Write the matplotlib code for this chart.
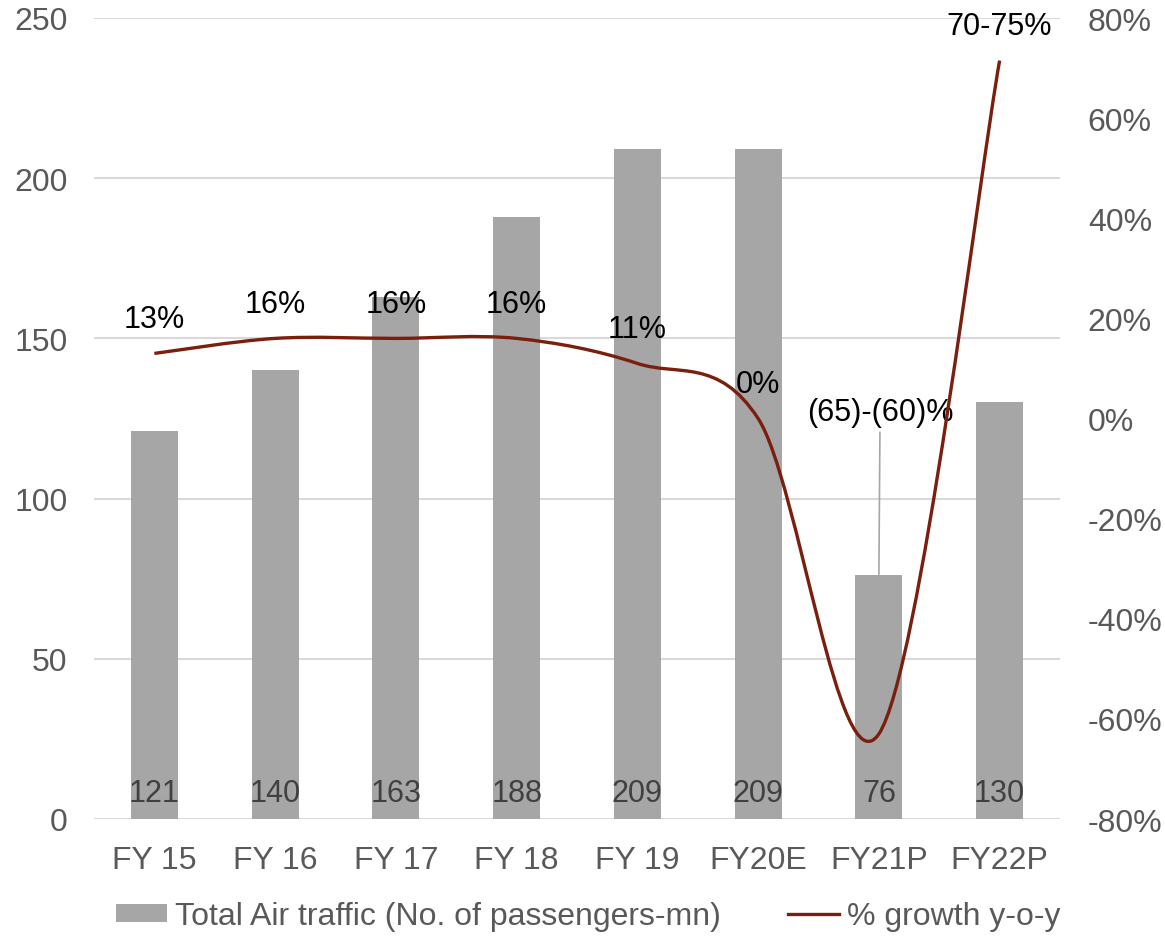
import numpy as np
import matplotlib
matplotlib.use("Agg")
import matplotlib.pyplot as plt
from matplotlib.path import Path
from matplotlib.patches import PathPatch, Patch
from matplotlib.lines import Line2D

# ---- data ----
categories = ["FY 15", "FY 16", "FY 17", "FY 18", "FY 19", "FY20E", "FY21P", "FY22P"]
passengers = [121, 140, 163, 188, 209, 209, 76, 130]
growth = [13, 16, 16, 16, 11, 0, -63, 71.5]
growth_labels = ["13%", "16%", "16%", "16%", "11%", "0%", "(65)-(60)%", "70-75%"]
left_ticks = [0, 50, 100, 150, 200, 250]
right_ticks = [-80, -60, -40, -20, 0, 20, 40, 60, 80]

BAR_COLOR = "#A6A6A6"
LINE_COLOR = "#7A1F0D"
GRID_COLOR = "#D9D9D9"
TICK_COLOR = "#595959"

plt.rcParams["font.family"] = ["Liberation Sans", "DejaVu Sans"]

fig = plt.figure(figsize=(11.65, 9.37), dpi=100)
ax = fig.add_axes([94 / 1165, 1 - 820 / 937, (1060 - 94) / 1165, (820 - 19) / 937])
ax2 = ax.twinx()

x = np.arange(len(categories))

# bars: total passengers
ax.bar(x, passengers, width=0.39, color=BAR_COLOR, zorder=2)
ax.set_xlim(-0.5, len(categories) - 0.5)
ax.set_ylim(0, 250)
ax.set_yticks(left_ticks)
ax.set_yticklabels([str(t) for t in left_ticks])
ax.set_xticks(x)
ax.set_xticklabels(categories)
ax.set_axisbelow(True)
ax.yaxis.grid(True, color=GRID_COLOR, linewidth=1.5)
ax.tick_params(axis="y", length=0, pad=19, labelsize=23, labelcolor=TICK_COLOR)
ax.tick_params(axis="x", length=0, pad=19, labelsize=23, labelcolor=TICK_COLOR)
for s in ax.spines.values():
    s.set_visible(False)

for xi, v in zip(x, passengers):
    ax.annotate(str(v), xy=(xi, 0), xytext=(0, 19), textcoords="offset points",
                ha="center", va="center", fontsize=22, color="#404040", zorder=3)

# smoothed growth line (cubic Bezier segments through the data points)
def smooth_path(xs, ys):
    pts = np.column_stack([xs, ys]).astype(float)
    n = len(pts)
    verts = [pts[0]]
    codes = [Path.MOVETO]
    for i in range(n - 1):
        p0 = pts[max(i - 1, 0)]
        p1 = pts[i]
        p2 = pts[i + 1]
        p3 = pts[min(i + 2, n - 1)]
        c1 = p1 + (p2 - p0) / 6.0
        c2 = p2 - (p3 - p1) / 6.0
        verts += [c1, c2, p2]
        codes += [Path.CURVE4] * 3
    return Path(verts, codes)

ax2.add_patch(PathPatch(smooth_path(x, growth), facecolor="none",
                        edgecolor=LINE_COLOR, linewidth=2.4, capstyle="butt",
                        joinstyle="round", zorder=4))
ax2.set_ylim(-80, 80)
ax2.set_yticks(right_ticks)
ax2.set_yticklabels([f"{t}%" for t in right_ticks])
ax2.tick_params(axis="y", length=0, pad=20, labelsize=23, labelcolor=TICK_COLOR)
for s in ax2.spines.values():
    s.set_visible(False)

for i, (xi, g, lab) in enumerate(zip(x, growth, growth_labels)):
    if i == 6:
        continue
    ax2.annotate(lab, xy=(xi, g), xytext=(0, 25), textcoords="offset points",
                 ha="center", va="center", fontsize=22, color="black", zorder=5)

# FY21P range label with leader line to the bar top
ax.annotate(growth_labels[6], xy=(6, passengers[6]), xytext=(6.01, 118),
            textcoords=("data", "offset points"),
            ha="center", va="center", fontsize=22, color="black", zorder=5,
            arrowprops=dict(arrowstyle="-", color=BAR_COLOR, lw=1.2,
                            shrinkA=2, shrinkB=0))

handles = [Patch(facecolor=BAR_COLOR, edgecolor="none"),
           Line2D([0], [0], color=LINE_COLOR, linewidth=2.4)]
labels = ["Total Air traffic (No. of passengers-mn)", "% growth y-o-y"]
fig.legend(handles, labels, loc="center", bbox_to_anchor=(0.505, 0.021),
           ncol=2, frameon=False, fontsize=23, labelcolor=TICK_COLOR,
           handlelength=1.6, handleheight=0.5, handletextpad=0.25,
           columnspacing=2.1, borderaxespad=0)

fig.savefig("out.png", dpi=100)
